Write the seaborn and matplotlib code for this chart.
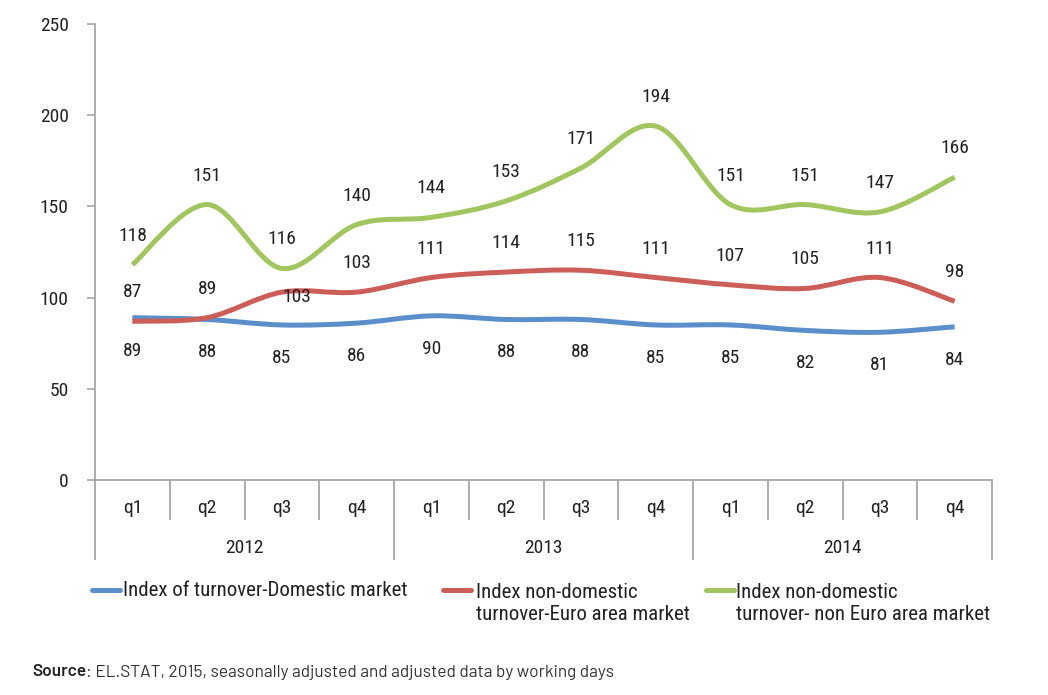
import numpy as np
import pandas as pd
import matplotlib
matplotlib.use("Agg")
import matplotlib.pyplot as plt
import matplotlib.transforms as mtransforms
from matplotlib.path import Path
from matplotlib.patches import PathPatch
from matplotlib.lines import Line2D
import seaborn as sns

# ---- data -------------------------------------------------------------
years = ["2012", "2013", "2014"]
quarters = ["q1", "q2", "q3", "q4"]
domestic = [89, 88, 85, 86, 90, 88, 88, 85, 85, 82, 81, 84]
euro_area = [87, 89, 103, 103, 111, 114, 115, 111, 107, 105, 111, 98]
non_euro_area = [118, 151, 116, 140, 144, 153, 171, 194, 151, 151, 147, 166]
series_names = [
    "Index of turnover-Domestic market",
    "Index non-domestic\nturnover-Euro area market",
    "Index non-domestic\nturnover- non Euro area market",
]
colors = ["#5A8FCB", "#CD5D57", "#A3C55F"]

# ---- style ------------------------------------------------------------
sns.set_theme(style="white")
FONT = ["Roboto Condensed", "Archivo Narrow", "DejaVu Sans"]
plt.rcParams["font.family"] = FONT
SRC_FONT = ["Barlow", "DejaVu Sans"]
TXT = "#222222"
AXC = "#A6A6A6"
FS = 14
LEG_FS = 15

n = len(years) * len(quarters)
pos = np.arange(n)
df = pd.DataFrame({
    "pos": np.tile(pos, 3),
    "value": domestic + euro_area + non_euro_area,
    "series": np.repeat(series_names, n),
})

W, H = 1048, 695
fig = plt.figure(figsize=(W / 100, H / 100), dpi=100)
fig.patch.set_facecolor("white")
ax = fig.add_axes([95 / W, 1 - 480 / H, (992 - 95) / W, 456 / H])

sns.lineplot(data=df, x="pos", y="value", hue="series", hue_order=series_names,
             palette=colors, legend=False, sort=False, linewidth=3.6, ax=ax)


def smooth_path(x, y):
    """Cubic Bezier path through the points (Catmull-Rom style tangents)."""
    pts = np.column_stack([x, y]).astype(float)
    m = len(pts)
    verts = [pts[0]]
    codes = [Path.MOVETO]
    for i in range(m - 1):
        p0 = pts[max(i - 1, 0)]
        p1 = pts[i]
        p2 = pts[i + 1]
        p3 = pts[min(i + 2, m - 1)]
        verts += [p1 + (p2 - p0) / 6.0, p2 - (p3 - p1) / 6.0, p2]
        codes += [Path.CURVE4] * 3
    return Path(verts, codes)


# replace the straight polylines by smoothed curves through the same points
for line in list(ax.lines):
    x, y = line.get_xdata(), line.get_ydata()
    ax.add_patch(PathPatch(smooth_path(x, y), facecolor="none",
                           edgecolor=line.get_color(), lw=line.get_linewidth(),
                           capstyle="butt", joinstyle="round", zorder=3))
    line.remove()

ax.set_xlim(-0.5, n - 0.5)
ax.set_ylim(0, 250)
ax.set_yticks(range(0, 251, 50))
ax.set_xticks([])
ax.set_xlabel("")
ax.set_ylabel("")
ax.tick_params(axis="y", left=True, direction="out", length=6, width=1.2,
               color=AXC, labelsize=FS, labelcolor=TXT, pad=13)
for s in ("top", "right"):
    ax.spines[s].set_visible(False)
for s in ("left", "bottom"):
    ax.spines[s].set_color(AXC)
    ax.spines[s].set_linewidth(1.3)

# ---- data labels ------------------------------------------------------
label_offsets = {0: (0, -33), 1: (0, 29), 2: (0, 29)}
special = {(1, 2): (15, -5)}
for k, vals in enumerate([domestic, euro_area, non_euro_area]):
    for i, v in enumerate(vals):
        dx, dy = special.get((k, i), label_offsets[k])
        ax.annotate(str(v), (i, v), xytext=(dx, dy), textcoords="offset pixels",
                    ha="center", va="center", fontsize=FS, color=TXT, zorder=4)

# ---- two-level category axis -------------------------------------------
trans = mtransforms.blended_transform_factory(ax.transData, ax.transAxes)
for i in range(n + 1):
    xb = i - 0.5
    y_end = -0.175 if i % 4 == 0 else -0.088
    ax.plot([xb, xb], [0, y_end], transform=trans, color=AXC, lw=1.3,
            clip_on=False, solid_capstyle="butt")
for i in range(n):
    ax.text(i, -0.061, quarters[i % 4], transform=trans, ha="center",
            va="center", fontsize=FS, color=TXT)
for k, yr in enumerate(years):
    ax.text(4 * k + 1.5, -0.149, yr, transform=trans, ha="center",
            va="center", fontsize=FS, color=TXT)

# ---- legend -----------------------------------------------------------
legend_items = [(92, 120, 123), (443, 471, 476), (706, 734, 736)]
for (x0, x1, xt), name, c in zip(legend_items, series_names, colors):
    yl = 1 - 590 / H
    fig.add_artist(Line2D([x0 / W, x1 / W], [yl, yl], transform=fig.transFigure,
                          color=c, lw=3.6, solid_capstyle="round"))
    nlines = name.count("\n") + 1
    yc = 590 + (nlines - 1) * 13
    fig.text(xt / W, 1 - yc / H, name, ha="left", va="center", fontsize=LEG_FS,
             color=TXT, linespacing=1.2)

# ---- source note ------------------------------------------------------
SRC_FS = 12.4
src_bold = fig.text(32 / W, 1 - 672 / H, "Source", ha="left", va="center",
                    fontsize=SRC_FS, fontweight="semibold", color=TXT,
                    family=SRC_FONT)
fig.canvas.draw()
bb = src_bold.get_window_extent()
fig.text(bb.x1 / W, 1 - 672 / H,
         ": EL.STAT, 2015, seasonally adjusted and adjusted data by working days",
         ha="left", va="center", fontsize=SRC_FS, color="#333333",
         family=SRC_FONT)

fig.savefig("out.png", dpi=100, facecolor="white")
